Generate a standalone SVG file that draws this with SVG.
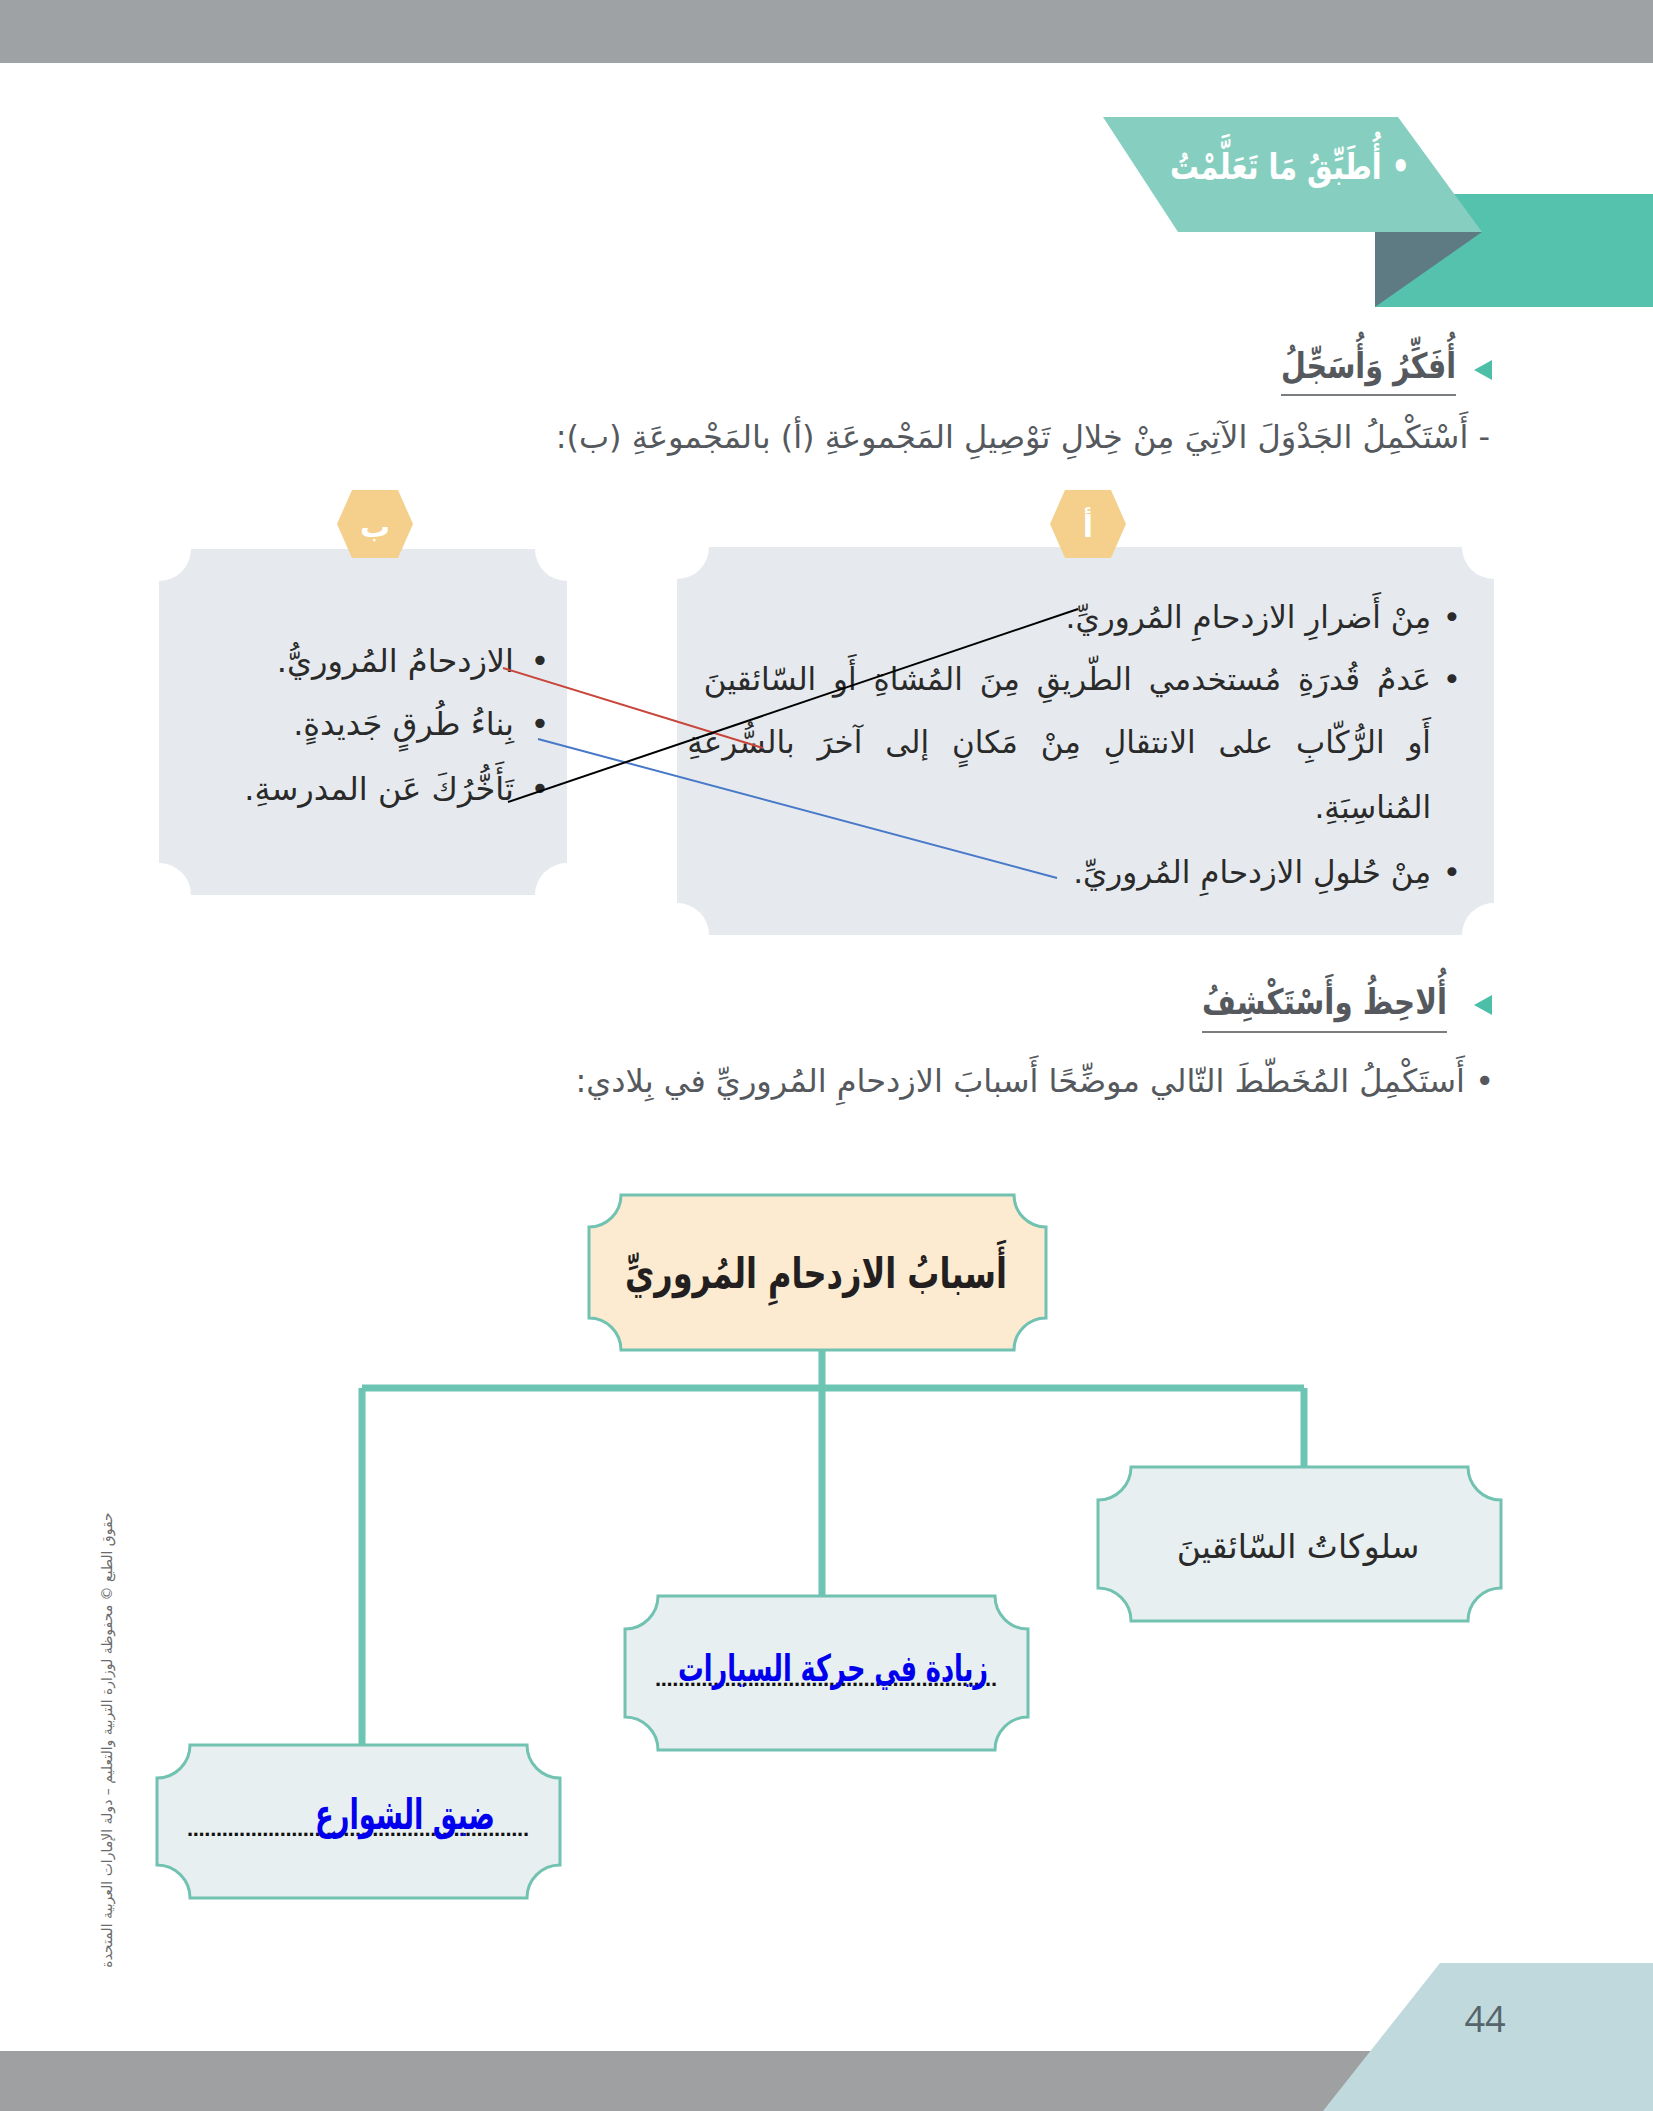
<svg xmlns="http://www.w3.org/2000/svg" width="1653" height="2111" viewBox="0 0 1653 2111">
<style>
.ar{font-family:"DejaVu Sans",sans-serif;direction:rtl;unicode-bidi:embed}
.gray{fill:#55595d}
.dark{fill:#2a2a2a}
.box{fill:#e6eaee}
.nbox{fill:#e8eff0;stroke:#72c2b2;stroke-width:3}
.tbox{fill:#fcebd1;stroke:#72c2b2;stroke-width:3}
.hex{fill:#f5d08c}
.tree{stroke:#6cc4b3;stroke-width:7;fill:none}
.blue{fill:#0000ee;font-weight:bold}
.dots{font-family:"Liberation Sans",sans-serif;fill:#111;font-weight:bold}
.tri{fill:#4dbfa8}
.uline{stroke:#7a7d80;stroke-width:2}
</style>
<rect x="0" y="0" width="1653" height="63" fill="#9fa2a4"/>
<g id="banner">
<rect x="1375" y="194" width="278" height="113" fill="#55c2ae"/>
<polygon points="1375,232 1482,232 1375,307" fill="#5e7b83"/>
<polygon points="1103,117 1398,117 1482,232 1178,232" fill="#86cfc0"/>
<text class="ar" x="1410" y="179" font-size="36" font-weight="bold" fill="#ffffff" textLength="240" lengthAdjust="spacingAndGlyphs">• أُطَبِّقُ مَا تَعَلَّمْتُ</text>
</g>
<g id="header1">
<polygon class="tri" points="1474,370 1492,360 1492,380"/>
<text class="ar gray" x="1456" y="378" font-size="35" font-weight="bold" textLength="175" lengthAdjust="spacingAndGlyphs">أُفَكِّرُ وَأُسَجِّلُ</text>
<line class="uline" x1="1281" y1="395" x2="1456" y2="395"/>
<text class="ar gray" x="1490" y="448" font-size="32">- أَسْتَكْمِلُ الجَدْوَلَ الآتِيَ مِنْ خِلالِ تَوْصِيلِ المَجْموعَةِ (أ) بالمَجْموعَةِ (ب):</text>
</g>
<g id="groupA">
<path class="box" d="M709,547 H1462 A32,32 0 0 0 1494,579 V903 A32,32 0 0 0 1462,935 H709 A32,32 0 0 0 677,903 V579 A32,32 0 0 0 709,547 Z"/>
<polygon class="hex" points="1050,524 1065,490 1111,490 1126,524 1111,558 1065,558"/>
<text class="ar" x="1088" y="537" font-size="30" font-weight="bold" fill="#ffffff" text-anchor="middle">أ</text>
<g class="ar dark" font-size="31">
<text x="1452" y="628" text-anchor="middle" style="direction:ltr">•</text>
<text x="1431" y="628">مِنْ أَضرارِ الازدحامِ المُروريِّ.</text>
<text x="1452" y="690" text-anchor="middle" style="direction:ltr">•</text>
<text x="1431" y="690" word-spacing="7">عَدمُ قُدرَةِ مُستخدمي الطّريقِ مِنَ المُشاةِ أَو السّائقينَ</text>
<text x="1431" y="753" word-spacing="13">أَو الرُّكّابِ على الانتقالِ مِنْ مَكانٍ إلى آخرَ بالسُّرعَةِ</text>
<text x="1431" y="818">المُناسِبَةِ.</text>
<text x="1452" y="883" text-anchor="middle" style="direction:ltr">•</text>
<text x="1431" y="883">مِنْ حُلولِ الازدحامِ المُروريِّ.</text>
</g>
</g>
<g id="groupB">
<path class="box" d="M191,549 H535 A32,32 0 0 0 567,581 V863 A32,32 0 0 0 535,895 H191 A32,32 0 0 0 159,863 V581 A32,32 0 0 0 191,549 Z"/>
<polygon class="hex" points="337,524 352,490 398,490 413,524 398,558 352,558"/>
<text class="ar" x="375" y="537" font-size="30" font-weight="bold" fill="#ffffff" text-anchor="middle">ب</text>
<g class="ar dark" font-size="32">
<text x="540" y="672" text-anchor="middle" style="direction:ltr">•</text>
<text x="514" y="672">الازدحامُ المُروريُّ.</text>
<text x="540" y="735" text-anchor="middle" style="direction:ltr">•</text>
<text x="514" y="735">بِناءُ طُرقٍ جَديدةٍ.</text>
<text x="540" y="800" text-anchor="middle" style="direction:ltr">•</text>
<text x="514" y="800">تَأَخُّرُكَ عَن المدرسةِ.</text>
</g>
</g>
<g id="matching-lines" stroke-width="2">
<line x1="503" y1="668" x2="763" y2="748" stroke="#c8453a"/>
<line x1="538" y1="739" x2="1057" y2="878" stroke="#4878c8"/>
<line x1="508" y1="802" x2="1078" y2="609" stroke="#000000"/>
</g>
<g id="header2">
<polygon class="tri" points="1474,1005 1492,995 1492,1015"/>
<text class="ar gray" x="1447" y="1014" font-size="35" font-weight="bold" textLength="245" lengthAdjust="spacingAndGlyphs">أُلاحِظُ وأَسْتَكْشِفُ</text>
<line class="uline" x1="1202" y1="1032" x2="1447" y2="1032"/>
<text class="ar gray" x="1494" y="1092" font-size="32">•  أَستَكْمِلُ المُخَطّطَ التّالي موضِّحًا أَسبابَ الازدحامِ المُروريِّ في بِلادي:</text>
</g>
<g id="tree-connectors" class="tree">
<line x1="822" y1="1350" x2="822" y2="1596"/>
<line x1="362" y1="1388" x2="1304" y2="1388"/>
<line x1="362" y1="1388" x2="362" y2="1745"/>
<line x1="1304" y1="1388" x2="1304" y2="1467"/>
</g>
<g id="node-root">
<path class="tbox" d="M621,1195 H1014 A32,32 0 0 0 1046,1227 V1318 A32,32 0 0 0 1014,1350 H621 A32,32 0 0 0 589,1318 V1227 A32,32 0 0 0 621,1195 Z"/>
<text class="ar" x="816" y="1288" font-size="42" font-weight="bold" fill="#231f20" text-anchor="middle" textLength="382" lengthAdjust="spacingAndGlyphs">أَسبابُ الازدحامِ المُروريِّ</text>
</g>
<g id="node-drivers">
<path class="nbox" d="M1131,1467 H1468 A33,33 0 0 0 1501,1500 V1588 A33,33 0 0 0 1468,1621 H1131 A33,33 0 0 0 1098,1588 V1500 A33,33 0 0 0 1131,1467 Z"/>
<text class="ar dark" x="1298" y="1558" font-size="33" text-anchor="middle">سلوكاتُ السّائقينَ</text>
</g>
<g id="node-traffic">
<path class="nbox" d="M658,1596 H995 A33,33 0 0 0 1028,1629 V1717 A33,33 0 0 0 995,1750 H658 A33,33 0 0 0 625,1717 V1629 A33,33 0 0 0 658,1596 Z"/>
<text class="dots" x="655" y="1686" font-size="22" textLength="342" lengthAdjust="spacing">...........................................................</text>
<text class="ar blue" x="833" y="1681" font-size="37" text-anchor="middle" textLength="310" lengthAdjust="spacingAndGlyphs">زيادة في حركة السيارات</text>
</g>
<g id="node-streets">
<path class="nbox" d="M190,1745 H527 A33,33 0 0 0 560,1778 V1865 A33,33 0 0 0 527,1898 H190 A33,33 0 0 0 157,1865 V1778 A33,33 0 0 0 190,1745 Z"/>
<text class="dots" x="187" y="1836" font-size="22" textLength="342" lengthAdjust="spacing">...........................................................</text>
<text class="ar blue" x="405" y="1829" font-size="42" text-anchor="middle" textLength="180" lengthAdjust="spacingAndGlyphs">ضيق الشوارع</text>
</g>
<text class="ar" transform="translate(112,1740) rotate(-90)" x="0" y="0" font-size="14" fill="#6b6b6b" text-anchor="middle">حقوق الطبع © محفوظة لوزارة التربية والتعليم – دولة الإمارات العربية المتحدة</text>
<g id="footer">
<rect x="0" y="2051" width="1653" height="60" fill="#9ea0a1"/>
<polygon points="1440,1963 1653,1963 1653,2111 1323,2111" fill="#c0d9dc"/>
<text x="1485" y="2032" font-family="Open Sans, sans-serif" font-size="36" fill="#56646b" text-anchor="middle">44</text>
</g>
</svg>
